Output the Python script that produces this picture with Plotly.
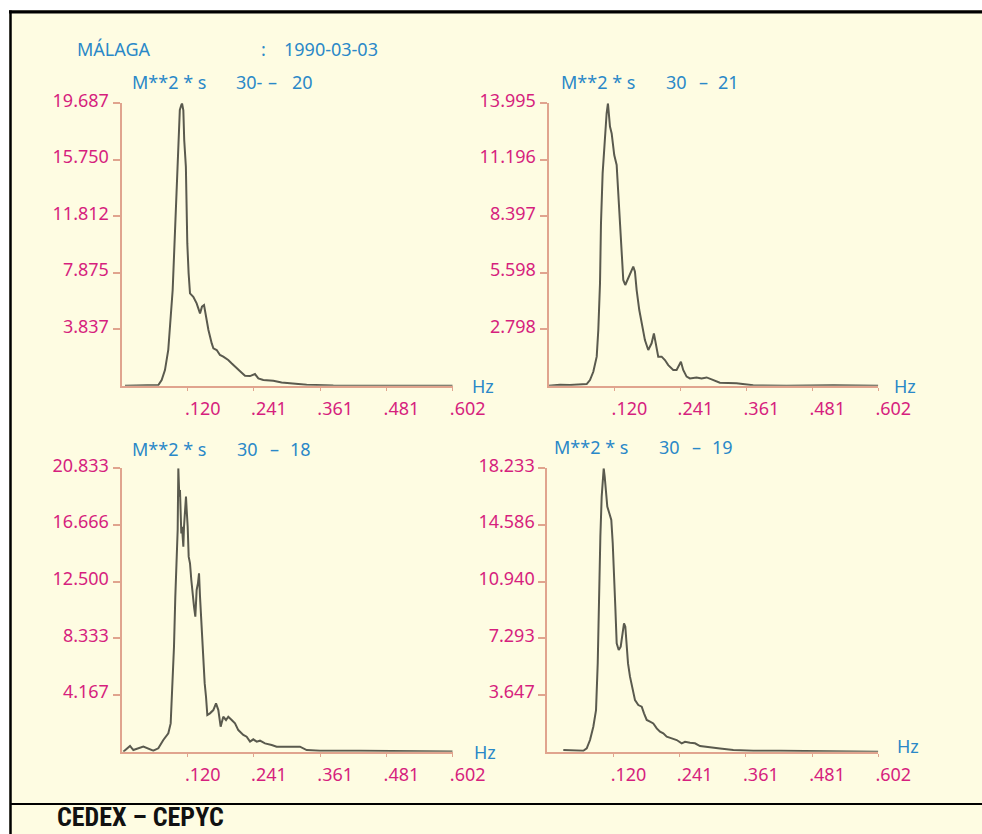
import plotly.graph_objects as go

W, H = 982, 834

# ---------------- data ----------------
freq_20 = [0.0064, 0.067, 0.073, 0.079, 0.085, 0.089, 0.093, 0.0954, 0.099, 0.1015, 0.104, 0.106, 0.1087,
           0.110, 0.1124, 0.114, 0.117, 0.1196, 0.122, 0.1245, 0.1305, 0.1366, 0.1427, 0.1463, 0.15, 0.1536,
           0.158, 0.164, 0.167, 0.173, 0.179, 0.185, 0.194, 0.200, 0.209, 0.2185, 0.2245, 0.2336, 0.2426,
           0.2487, 0.2577, 0.276, 0.291, 0.309, 0.3366, 0.385, 0.4395, 0.602]
spec_20 = [0.0, 0.05, 0.40, 1.09, 2.49, 4.35, 6.67, 8.99, 12.48, 15.96, 18.29, 19.22, 19.57,
           19.687, 19.2, 17.13, 15.27, 9.92, 7.83, 6.44, 6.20, 5.74, 5.04, 5.51, 5.62, 4.81,
           3.88, 2.95, 2.60, 2.49, 2.14, 2.02, 1.79, 1.56, 1.21, 0.91, 0.70, 0.67, 0.81,
           0.51, 0.40, 0.35, 0.23, 0.16, 0.07, 0.02, 0.02, 0.0]

freq_21 = [0.0, 0.021, 0.039, 0.0697, 0.0757, 0.0818, 0.088, 0.0909, 0.094, 0.0958, 0.0988, 0.1012, 0.1037,
           0.1061, 0.1085, 0.1104, 0.1122, 0.1153, 0.12, 0.1244, 0.128, 0.1304, 0.1335, 0.1365, 0.1401,
           0.1438, 0.1487, 0.1547, 0.1578, 0.1609, 0.1657, 0.17, 0.176, 0.1821, 0.1882, 0.1924, 0.1961,
           0.2003, 0.2065, 0.2125, 0.2186, 0.2277, 0.2338, 0.2417, 0.2459, 0.2521, 0.2581, 0.2703, 0.2794,
           0.2886, 0.2977, 0.3128, 0.3433, 0.3615, 0.3736, 0.4345, 0.5195, 0.602]
spec_21 = [0.0, 0.05, 0.03, 0.08, 0.28, 0.69, 1.44, 2.76, 5.07, 8.04, 10.52, 11.68, 12.67,
           13.50, 13.995, 13.17, 12.84, 12.50, 11.43, 10.94, 9.20, 7.55, 6.39, 5.24, 4.99,
           5.24, 5.48, 5.90, 5.65, 4.74, 3.75, 3.09, 2.26, 1.77, 2.10, 2.59, 2.10,
           1.44, 1.44, 1.27, 1.02, 0.78, 0.78, 1.19, 0.78, 0.45, 0.36, 0.41, 0.36,
           0.41, 0.31, 0.15, 0.12, 0.05, 0.02, 0.0, 0.02, 0.0]

freq_18 = [0.0033, 0.0155, 0.0215, 0.0397, 0.0578, 0.0669, 0.076, 0.0851, 0.0894, 0.093, 0.0954, 0.0978,
           0.1003, 0.1021, 0.1033, 0.1051, 0.1063, 0.1076, 0.1087, 0.11, 0.1112, 0.1124, 0.1136, 0.1154,
           0.1172, 0.1185, 0.1203, 0.1221, 0.1245, 0.1269, 0.1294, 0.1318, 0.1342, 0.1366, 0.139, 0.1409,
           0.1427, 0.1445, 0.1463, 0.1487, 0.1512, 0.1536, 0.156, 0.1608, 0.1669, 0.1718, 0.176, 0.1802,
           0.185, 0.19, 0.1941, 0.2003, 0.2063, 0.2123, 0.2214, 0.2275, 0.2336, 0.2396, 0.2457, 0.2517,
           0.2608, 0.273, 0.282, 0.3003, 0.3244, 0.3366, 0.3608, 0.4335, 0.602]
spec_18 = [0.0, 0.42, 0.12, 0.37, 0.07, 0.25, 0.86, 1.35, 2.08, 5.02, 7.72, 11.40,
           13.85, 16.30, 20.833, 18.75, 19.24, 17.52, 16.05, 16.54, 15.32, 15.07, 16.54, 18.01,
           18.75, 17.77, 16.54, 14.34, 13.85, 12.62, 11.40, 10.66, 9.93, 11.89, 12.38, 13.11,
           11.40, 9.93, 8.46, 6.99, 5.02, 4.04, 2.70, 2.82, 3.06, 3.55, 3.06, 1.84,
           2.57, 2.33, 2.57, 2.33, 2.08, 1.59, 1.23, 1.10, 0.74, 0.91, 0.74, 0.81,
           0.61, 0.49, 0.37, 0.37, 0.37, 0.12, 0.07, 0.07, 0.02]

freq_19 = [0.0291, 0.0655, 0.0717, 0.0777, 0.0837, 0.0886, 0.0917, 0.094, 0.0965, 0.0989, 0.1007, 0.1026,
           0.1044, 0.1068, 0.1091, 0.1128, 0.1164, 0.119, 0.1213, 0.1237, 0.1262, 0.1299, 0.1335, 0.1371,
           0.1395, 0.1419, 0.1444, 0.1468, 0.1504, 0.1553, 0.1595, 0.1655, 0.1717, 0.1759, 0.1808, 0.1868,
           0.1928, 0.199, 0.205, 0.211, 0.2172, 0.2263, 0.2354, 0.2444, 0.2505, 0.2596, 0.2686, 0.2777,
           0.2899, 0.3141, 0.3383, 0.3747, 0.4232, 0.602]
spec_19 = [0.11, 0.06, 0.21, 0.75, 1.61, 2.68, 5.68, 11.05, 13.84, 16.41, 17.70, 18.233,
           17.70, 16.84, 15.77, 15.34, 14.91, 13.41, 11.69, 9.33, 6.97, 6.54, 6.76, 7.62,
           8.26, 8.04, 6.76, 5.68, 4.83, 3.97, 3.32, 3.00, 2.90, 2.47, 2.04, 1.93,
           1.82, 1.50, 1.29, 1.18, 0.97, 0.86, 0.75, 0.54, 0.64, 0.58, 0.54, 0.36,
           0.32, 0.21, 0.11, 0.06, 0.06, 0.0]

x_tick_labels = [".120", ".241", ".361", ".481", ".602"]
x_max = 0.602

y_max_20 = 19.687
y_ticks_20 = ["3.837", "7.875", "11.812", "15.750", "19.687"]
y_max_21 = 13.995
y_ticks_21 = ["2.798", "5.598", "8.397", "11.196", "13.995"]
y_max_18 = 20.833
y_ticks_18 = ["4.167", "8.333", "12.500", "16.666", "20.833"]
y_max_19 = 18.233
y_ticks_19 = ["3.647", "7.293", "10.940", "14.586", "18.233"]

station = "MÁLAGA"
date = "1990-03-03"
footer = "CEDEX – CEPYC"

# ---------------- styling ----------------
BG = "#fefce2"
MAGENTA = "#d61f7e"
BLUE = "#2a88c8"
AXIS = "#e0a48e"
CURVE = "#5a5a4e"
FONT = "Noto Sans, Open Sans, sans-serif"


def px_x(p):
    return p / W


def px_y(p):
    return 1 - p / H


panels = [
    (freq_20, spec_20, y_max_20, y_ticks_20, 121.5, 452.7, 103.3, 385.7,
     [("M**2 * s", 130, 82), ("30-", 234, 82), ("–", 266, 82), ("20", 290, 82)], (483, 386)),
    (freq_21, spec_21, y_max_21, y_ticks_21, 548.5, 878.3, 103.3, 385.7,
     [("M**2 * s", 559, 82), ("30", 664, 82), ("–", 697, 82), ("21", 716, 82)], (905, 386)),
    (freq_18, spec_18, y_max_18, y_ticks_18, 121.5, 452.7, 468.3, 751.7,
     [("M**2 * s", 130, 449), ("30", 235, 449), ("–", 268, 449), ("18", 288, 449)], (485, 752)),
    (freq_19, spec_19, y_max_19, y_ticks_19, 547.3, 878.3, 468.3, 751.7,
     [("M**2 * s", 552, 447), ("30", 657, 447), ("–", 690, 447), ("19", 710, 447)], (908, 746)),
]

fig = go.Figure()
annotations = []
layout_axes = {}

for i, (fx, sy, ymax, ytxt, x0, x1, ytop, ybase, tokens, hzpos) in enumerate(panels, start=1):
    sfx = "" if i == 1 else str(i)
    fig.add_trace(go.Scatter(
        x=fx, y=sy, mode="lines",
        line=dict(color=CURVE, width=2),
        xaxis="x" + sfx, yaxis="y" + sfx, showlegend=False, hoverinfo="skip",
    ))
    xtv = [x_max * k / 5 for k in range(1, 6)]
    ytv = [ymax * k / 5 for k in range(1, 6)]
    layout_axes["xaxis" + sfx] = dict(
        domain=[px_x(x0), px_x(x1)], range=[0, x_max], anchor="y" + sfx, automargin=False,
        showgrid=False, zeroline=False, showline=True, linecolor=AXIS, linewidth=2,
        ticks="outside", ticklen=3, tickcolor=AXIS, tickwidth=1,
        tickvals=xtv, ticktext=x_tick_labels, ticklabelshift=15, ticklabelstandoff=3,
        tickfont=dict(color=MAGENTA, size=18, family=FONT), fixedrange=True,
    )
    layout_axes["yaxis" + sfx] = dict(
        domain=[px_y(ybase), px_y(ytop)], range=[0, ymax], anchor="x" + sfx, automargin=False,
        showgrid=False, zeroline=False, showline=True, linecolor=AXIS, linewidth=2,
        ticks="outside", ticklen=7, tickcolor=AXIS, tickwidth=1.5,
        tickvals=ytv, ticktext=ytxt, ticklabelstandoff=0, ticklabelshift=-3,
        tickfont=dict(color=MAGENTA, size=18, family=FONT), fixedrange=True,
    )
    for txt, tx, ty in tokens:
        annotations.append(dict(
            text=txt, x=px_x(tx), y=px_y(ty), xref="paper", yref="paper",
            xanchor="left", yanchor="middle", showarrow=False,
            font=dict(color=BLUE, size=18, family=FONT),
        ))
    annotations.append(dict(
        text="Hz", x=px_x(hzpos[0]), y=px_y(hzpos[1]), xref="paper", yref="paper",
        xanchor="center", yanchor="middle", showarrow=False,
        font=dict(color=BLUE, size=18, family=FONT),
    ))

annotations += [
    dict(text=station, x=px_x(75), y=px_y(49), xref="paper", yref="paper", xanchor="left",
         yanchor="middle", showarrow=False, font=dict(color=BLUE, size=18, family=FONT)),
    dict(text=":", x=px_x(259), y=px_y(49), xref="paper", yref="paper", xanchor="left",
         yanchor="middle", showarrow=False, font=dict(color=BLUE, size=18, family=FONT)),
    dict(text=date, x=px_x(282), y=px_y(49), xref="paper", yref="paper", xanchor="left",
         yanchor="middle", showarrow=False, font=dict(color=BLUE, size=18, family=FONT)),
    dict(text="<b>" + footer + "</b>", x=px_x(55), y=px_y(817), xref="paper", yref="paper",
         xanchor="left", yanchor="middle", showarrow=False,
         font=dict(color="#111111", size=26,
                   family="Liberation Sans Narrow, Roboto Condensed, Arial Narrow, sans-serif")),
]

shapes = [
    dict(type="rect", xref="paper", yref="paper", x0=0, x1=1, y0=px_y(10), y1=1,
         fillcolor="white", line=dict(width=0), layer="below"),
    dict(type="rect", xref="paper", yref="paper", x0=0, x1=px_x(9), y0=0, y1=1,
         fillcolor="white", line=dict(width=0), layer="below"),
    dict(type="line", xref="paper", yref="paper", x0=px_x(9), x1=1, y0=px_y(11.8), y1=px_y(11.8),
         line=dict(color="black", width=3.2)),
    dict(type="line", xref="paper", yref="paper", x0=px_x(10.5), x1=px_x(10.5), y0=0, y1=px_y(10.5),
         line=dict(color="black", width=2.5)),
    dict(type="line", xref="paper", yref="paper", x0=px_x(10), x1=1, y0=px_y(804), y1=px_y(804),
         line=dict(color="black", width=2)),
]

fig.update_layout(
    width=W, height=H, margin=dict(l=0, r=0, t=0, b=0, autoexpand=False),
    paper_bgcolor=BG, plot_bgcolor=BG,
    annotations=annotations, shapes=shapes, showlegend=False,
    **layout_axes,
)

fig.write_html(
    "out.html",
    config={"displayModeBar": False},
    post_script="document.body.style.margin='0px';document.body.style.overflow='hidden';",
)
